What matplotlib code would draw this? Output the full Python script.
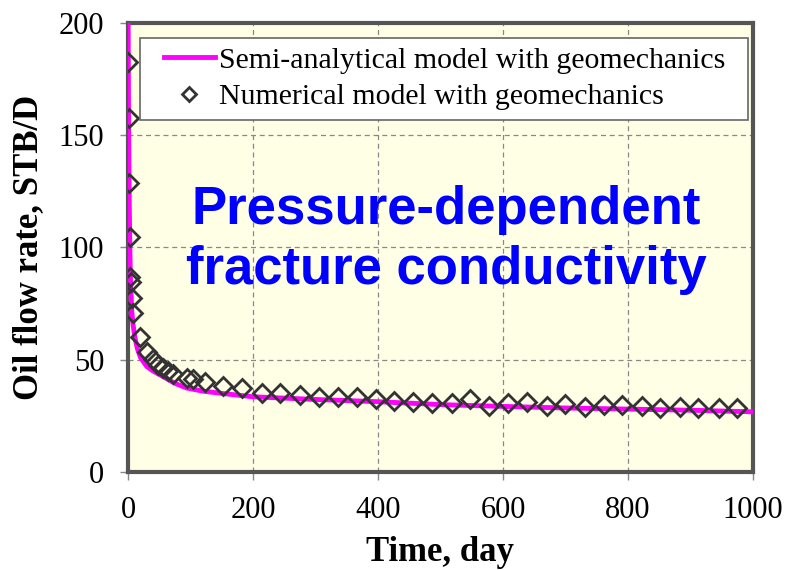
import matplotlib
matplotlib.use('Agg')
import matplotlib.pyplot as plt
from matplotlib.patches import Rectangle

# Semi-analytical model (solid line)
t_model = [0, 0.5, 1, 2, 3, 4, 6, 8, 11, 15, 20, 30, 40, 56, 75, 94, 120, 150,
           200, 300, 400, 500, 600, 700, 800, 900, 1000]
q_model = [215, 185, 155, 122, 100, 86, 72, 66, 60, 55, 51, 47, 45, 42.5, 39.5,
           37.4, 36, 35, 33.5, 32.3, 31.3, 30.0, 29.2, 28.5, 28.0, 27.5, 26.8]

# Numerical model (diamonds)
t_num = [0.5, 1, 2, 3, 4, 5, 6, 8.5, 20, 30, 40, 48, 56, 64, 72, 94, 104, 123,
         152, 183, 214, 244, 275, 306, 336, 367, 397, 426, 456, 487, 518, 547,
         578, 608, 639, 670, 700, 731, 762, 791, 823, 852, 883, 912, 945, 975]
q_num = [182.8, 157.7, 128.9, 104.6, 87.0, 84.8, 77.5, 70.7, 60.0, 53.6, 50.2,
         47.7, 46.2, 45.0, 43.7, 41.7, 41.3, 40.2, 38.3, 37.3, 35.0, 35.3, 34.3,
         33.5, 33.5, 33.3, 32.4, 31.6, 31.3, 30.9, 30.6, 32.5, 29.6, 30.6, 31.3,
         29.6, 30.3, 29.1, 29.8, 29.8, 29.6, 28.4, 29.1, 28.6, 28.4, 28.4]

x_ticks = [0, 200, 400, 600, 800, 1000]
y_ticks = [0, 50, 100, 150, 200]

serif = 'Liberation Serif'

fig = plt.figure(figsize=(7.86, 5.7), dpi=100)
ax = fig.add_axes([0.1628, 0.172, 0.7952, 0.7876])
ax.set_facecolor('#FFFFE6')

ax.plot(t_model, q_model, color='#FF00FF', linewidth=3.5, zorder=3,
        label='Semi-analytical model with geomechanics')
ax.plot(t_num, q_num, linestyle='none', marker='D', markersize=9,
        markerfacecolor='none', markeredgecolor='#333333', markeredgewidth=2,
        zorder=4, label='Numerical model with geomechanics')

ax.set_xlim(0, 1000)
ax.set_ylim(0, 200)
ax.set_xticks(x_ticks)
ax.set_yticks(y_ticks)
ax.grid(True, linestyle=(0, (4, 3)), color='#888888', linewidth=0.9)
ax.set_axisbelow(True)

for side in ['left', 'bottom', 'top', 'right']:
    ax.spines[side].set_color('#555555')
    ax.spines[side].set_linewidth(3)
ax.tick_params(direction='out', length=6, width=1, color='#888888',
               labelsize=22, pad=11)
for lbl in ax.get_xticklabels() + ax.get_yticklabels():
    lbl.set_family(serif)

ax.set_xlabel('Time, day', fontsize=25, fontweight='bold', family=serif,
              labelpad=8)
ax.set_ylabel('Oil flow rate, STB/D', fontsize=25, fontweight='bold',
              family=serif, labelpad=10)

# legend box with wide side margins
ax.add_patch(Rectangle((0.019, 0.784), 0.973, 0.183, transform=ax.transAxes,
                       facecolor='white', edgecolor='#666666', linewidth=1.2,
                       zorder=4.5))
ax.legend(loc='upper left', bbox_to_anchor=(0.0576, 0.947), borderaxespad=0,
          prop={'family': serif, 'size': 21.5}, frameon=False, borderpad=0,
          handlelength=1.7, handletextpad=0.13, labelspacing=0.33,
          markerscale=0.75)

ax.text(0.509, 0.517, 'Pressure-dependent\nfracture conductivity',
        transform=ax.transAxes, ha='center', va='center', color='#0000FF',
        fontsize=38, fontweight='bold', family='Liberation Sans',
        linespacing=1.25)

fig.savefig('out.png', dpi=100)
